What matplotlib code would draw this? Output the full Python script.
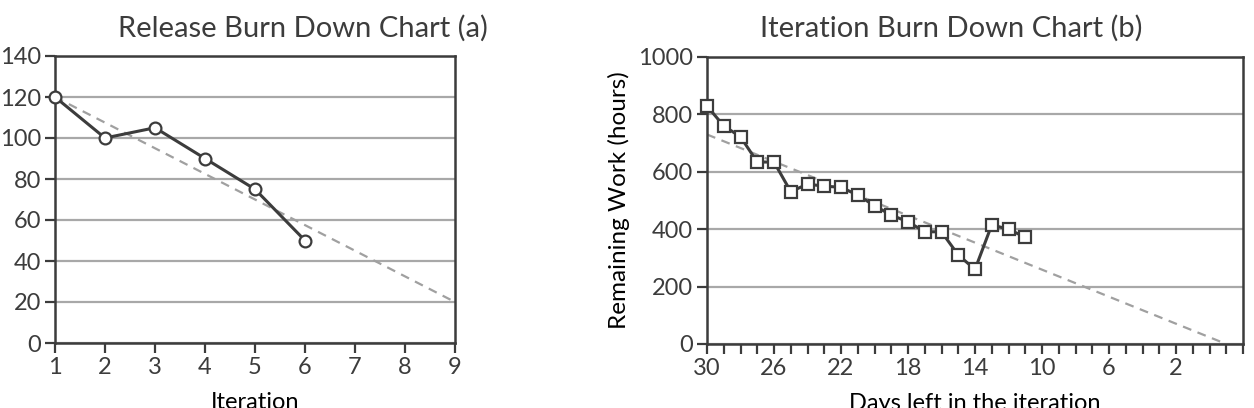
import matplotlib.pyplot as plt
import numpy as np

# release burn down (a)
iterations = [1, 2, 3, 4, 5, 6]
release_work = [120, 100, 105, 90, 75, 50]
release_ideal_x = [1, 9]
release_ideal_y = [120, 20]

# iteration burn down (b)
days_left = [30, 29, 28, 27, 26, 25, 24, 23, 22, 21, 20, 19, 18, 17, 16, 15, 14, 13, 12, 11]
remaining_hours = [829, 760, 722, 634, 634, 531, 557, 550, 546, 519, 482, 449, 426, 391, 391, 310, 260, 415, 400, 372]
iter_ideal_x = [30, -1]
iter_ideal_y = [730, 0]

dark = '#3c3c3c'
gridc = '#a8a8a8'
dashc = '#a0a0a0'

plt.rcParams['font.family'] = ['Lato', 'DejaVu Sans']
plt.rcParams['text.color'] = dark
plt.rcParams['xtick.color'] = dark
plt.rcParams['ytick.color'] = dark

fig = plt.figure(figsize=(12.54, 4.08), dpi=100)
ax1 = fig.add_axes([55/1254, 65/408, 400/1254, 287/408])
ax2 = fig.add_axes([707/1254, 64/408, 536/1254, 287/408])


def style(ax):
    for s in ax.spines.values():
        s.set_color(dark)
        s.set_linewidth(1.8)
    ax.yaxis.grid(True, color=gridc, linewidth=1.6)
    ax.set_axisbelow(True)
    ax.tick_params(axis='both', which='both', direction='out', width=1.6,
                   color=dark, labelsize=17)
    ax.tick_params(axis='both', which='major', length=7, pad=3)
    ax.tick_params(axis='x', which='minor', length=7)


ax1.plot(release_ideal_x, release_ideal_y, '--', color=dashc, lw=1.6, dashes=(4, 3))
ax1.plot(iterations, release_work, '-o', color=dark, lw=2.2, ms=8.5,
         mfc='white', mec=dark, mew=1.6, clip_on=False, zorder=5)
ax1.set_xlim(1, 9)
ax1.set_ylim(0, 140)
ax1.set_xticks(range(1, 10))
ax1.set_yticks(range(0, 141, 20))
style(ax1)
ax1.set_xlabel('Iteration', fontsize=17, labelpad=10)

ax2.plot(iter_ideal_x, iter_ideal_y, '--', color=dashc, lw=1.6, dashes=(4, 3))
ax2.plot(days_left, remaining_hours, '-s', color=dark, lw=2.2, ms=9,
         mfc='white', mec=dark, mew=1.6, clip_on=False, zorder=5)
ax2.set_xlim(30, -2)
ax2.set_ylim(0, 1000)
ax2.set_xticks([30, 26, 22, 18, 14, 10, 6, 2])
ax2.set_xticks(np.arange(30, -3, -1), minor=True)
ax2.set_yticks(range(0, 1001, 200))
style(ax2)
ax2.set_xlabel('Days left in the iteration', fontsize=17, labelpad=10)
ax2.set_ylabel('Remaining Work (hours)', fontsize=17.5, labelpad=6)

fig.text(303/1254, 1 - 28/408, 'Release Burn Down Chart (a)', ha='center', va='center', fontsize=21)
fig.text(951/1254, 1 - 28/408, 'Iteration Burn Down Chart (b)', ha='center', va='center', fontsize=21)

fig.savefig('out.png', dpi=100)
